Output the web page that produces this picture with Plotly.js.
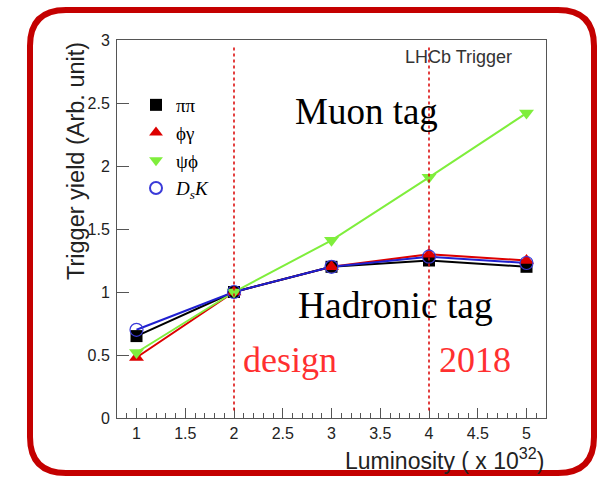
<!DOCTYPE html>
<html>
<head>
<meta charset="utf-8">
<script src="https://cdn.plot.ly/plotly-3.0.1.min.js"></script>
<style>html,body{margin:0;padding:0;background:#fff;}#chart{width:602px;height:479px;}</style>
</head>
<body>
<div id="chart"></div>
<script>
// ---- data ----
const luminosity = [1, 2, 3, 4, 5];
const pipi   = [0.65, 1.00, 1.20, 1.25, 1.20];
const phigam = [0.48, 1.00, 1.20, 1.30, 1.25];
const psiphi = [0.52, 1.00, 1.41, 1.91, 2.42];
const dsk    = [0.70, 1.00, 1.20, 1.28, 1.23];
const seriesNames = ['ππ', 'ϕγ', 'ψϕ', '<i>D<sub>s</sub>K</i>'];
const markerLines = [2, 4]; // design, 2018
const xTickVals = [1, 1.5, 2, 2.5, 3, 3.5, 4, 4.5, 5];
const yTickVals = [0, 0.5, 1, 1.5, 2, 2.5, 3];

// ---- layout helpers (pixel -> paper) ----
const W = 602, H = 479, L = 117, R = 56, T = 40, B = 61;
const pw = W - L - R, ph = H - T - B;
const px = x => (x - L) / pw;
const py = y => (H - B - y) / ph;

function roundRect(x0, y0, x1, y1, r) {
  const p = (x, y) => px(x).toFixed(5) + ',' + py(y).toFixed(5);
  return 'M' + p(x0 + r, y0) + ' L' + p(x1 - r, y0) + ' Q' + p(x1, y0) + ' ' + p(x1, y0 + r) +
    ' L' + p(x1, y1 - r) + ' Q' + p(x1, y1) + ' ' + p(x1 - r, y1) +
    ' L' + p(x0 + r, y1) + ' Q' + p(x0, y1) + ' ' + p(x0, y1 - r) +
    ' L' + p(x0, y0 + r) + ' Q' + p(x0, y0) + ' ' + p(x0 + r, y0) + ' Z';
}

const green = '#7fee3c', red = '#dd0000', blue = '#2020d0', black = '#000000';

const lineTraces = [
  {y: phigam, color: red},
  {y: pipi, color: black},
  {y: psiphi, color: green},
  {y: dsk, color: blue}
].map(s => ({
  x: luminosity, y: s.y, mode: 'lines', showlegend: false, hoverinfo: 'skip',
  line: {color: s.color, width: 2}
}));

const markerDefs = [
  {y: pipi,   name: seriesNames[0], marker: {symbol: 'square', size: 12, color: black}},
  {y: phigam, name: seriesNames[1], marker: {symbol: 'triangle-up', size: 13, color: red}},
  {y: psiphi, name: seriesNames[2], marker: {symbol: 'triangle-down', size: 13, color: green}},
  {y: dsk,    name: seriesNames[3], marker: {symbol: 'circle-open', size: 13, color: '#3a3ad8', line: {width: 1.2}}}
];
const markerTraces = markerDefs.map((s, i) => ({
  x: luminosity, y: s.y, mode: 'markers', name: s.name, legendgroup: 'g' + i,
  marker: s.marker
}));

const serif = 'Liberation Serif, Times New Roman, serif';
const sans = 'Liberation Sans, Arial, sans-serif';

const shapes = markerLines.map(v => ({
  type: 'line', xref: 'x', yref: 'y', x0: v, x1: v, y0: 0.06, y1: 2.96,
  line: {color: '#dd1111', width: 1.6, dash: 'dot'}
}));
shapes.push({
  type: 'path', xref: 'paper', yref: 'paper', path: roundRect(30, 10, 594, 473, 36),
  line: {color: '#c40000', width: 6}, fillcolor: 'rgba(0,0,0,0)', layer: 'above'
});

const annotations = [
  {text: 'LHCb Trigger', x: 3.73, y: 2.865, xanchor: 'left', yanchor: 'middle', font: {family: sans, size: 18, color: '#333'}},
  {text: 'Muon tag', x: 2.6, y: 2.43, xanchor: 'left', yanchor: 'middle', font: {family: serif, size: 37, color: '#000'}},
  {text: 'Hadronic tag', x: 2.64, y: 0.895, xanchor: 'left', yanchor: 'middle', font: {family: serif, size: 37.5, color: '#000'}},
  {text: 'design', x: 2.07, y: 0.46, xanchor: 'left', yanchor: 'middle', font: {family: serif, size: 36, color: '#ff3030'}},
  {text: '2018', x: 4.08, y: 0.46, xanchor: 'left', yanchor: 'middle', font: {family: serif, size: 36, color: '#ff3030'}},
  {text: 'Trigger yield (Arb. unit)', xref: 'paper', yref: 'paper', x: px(76), y: 1.0, xanchor: 'center', yanchor: 'top', textangle: -90, font: {family: sans, size: 23.5, color: '#222'}},
  {text: 'Luminosity ( x 10<sup>32</sup>)', xref: 'paper', yref: 'paper', x: 1.0, y: py(459), xanchor: 'right', yanchor: 'middle', font: {family: sans, size: 23, color: '#222'}}
].map(a => Object.assign({showarrow: false, xref: 'x', yref: 'y'}, a));

const layout = {
  width: W, height: H,
  margin: {l: L, r: R, t: T, b: B, pad: 0},
  paper_bgcolor: '#fff', plot_bgcolor: '#fff',
  showlegend: true,
  legend: {
    x: px(136), y: py(86), xanchor: 'left', yanchor: 'top',
    font: {family: serif, size: 19, color: '#000'},
    bgcolor: 'rgba(0,0,0,0)', tracegroupgap: 0, itemsizing: 'constant'
  },
  xaxis: {
    range: [0.8, 5.2], tickvals: xTickVals, ticktext: xTickVals.map(String),
    ticks: 'inside', ticklen: 10, tickwidth: 1, tickcolor: '#555',
    minor: {dtick: 0.1, tick0: 0, ticks: 'inside', ticklen: 5, tickwidth: 1, tickcolor: '#555', showgrid: false},
    showline: true, linecolor: '#555', linewidth: 1, mirror: true,
    showgrid: false, zeroline: false,
    tickfont: {family: sans, size: 16, color: '#222'}, ticklabelstandoff: 1
  },
  yaxis: {
    range: [0, 3], tickvals: yTickVals, ticktext: yTickVals.map(String),
    ticks: 'inside', ticklen: 12, tickwidth: 1, tickcolor: '#555',
    showline: true, linecolor: '#555', linewidth: 1, mirror: true,
    showgrid: false, zeroline: false,
    tickfont: {family: sans, size: 16, color: '#222'}, ticklabelstandoff: 3
  },
  shapes: shapes,
  annotations: annotations
};

Plotly.newPlot('chart', lineTraces.concat(markerTraces), layout, {displayModeBar: false, staticPlot: true});
</script>
</body>
</html>
